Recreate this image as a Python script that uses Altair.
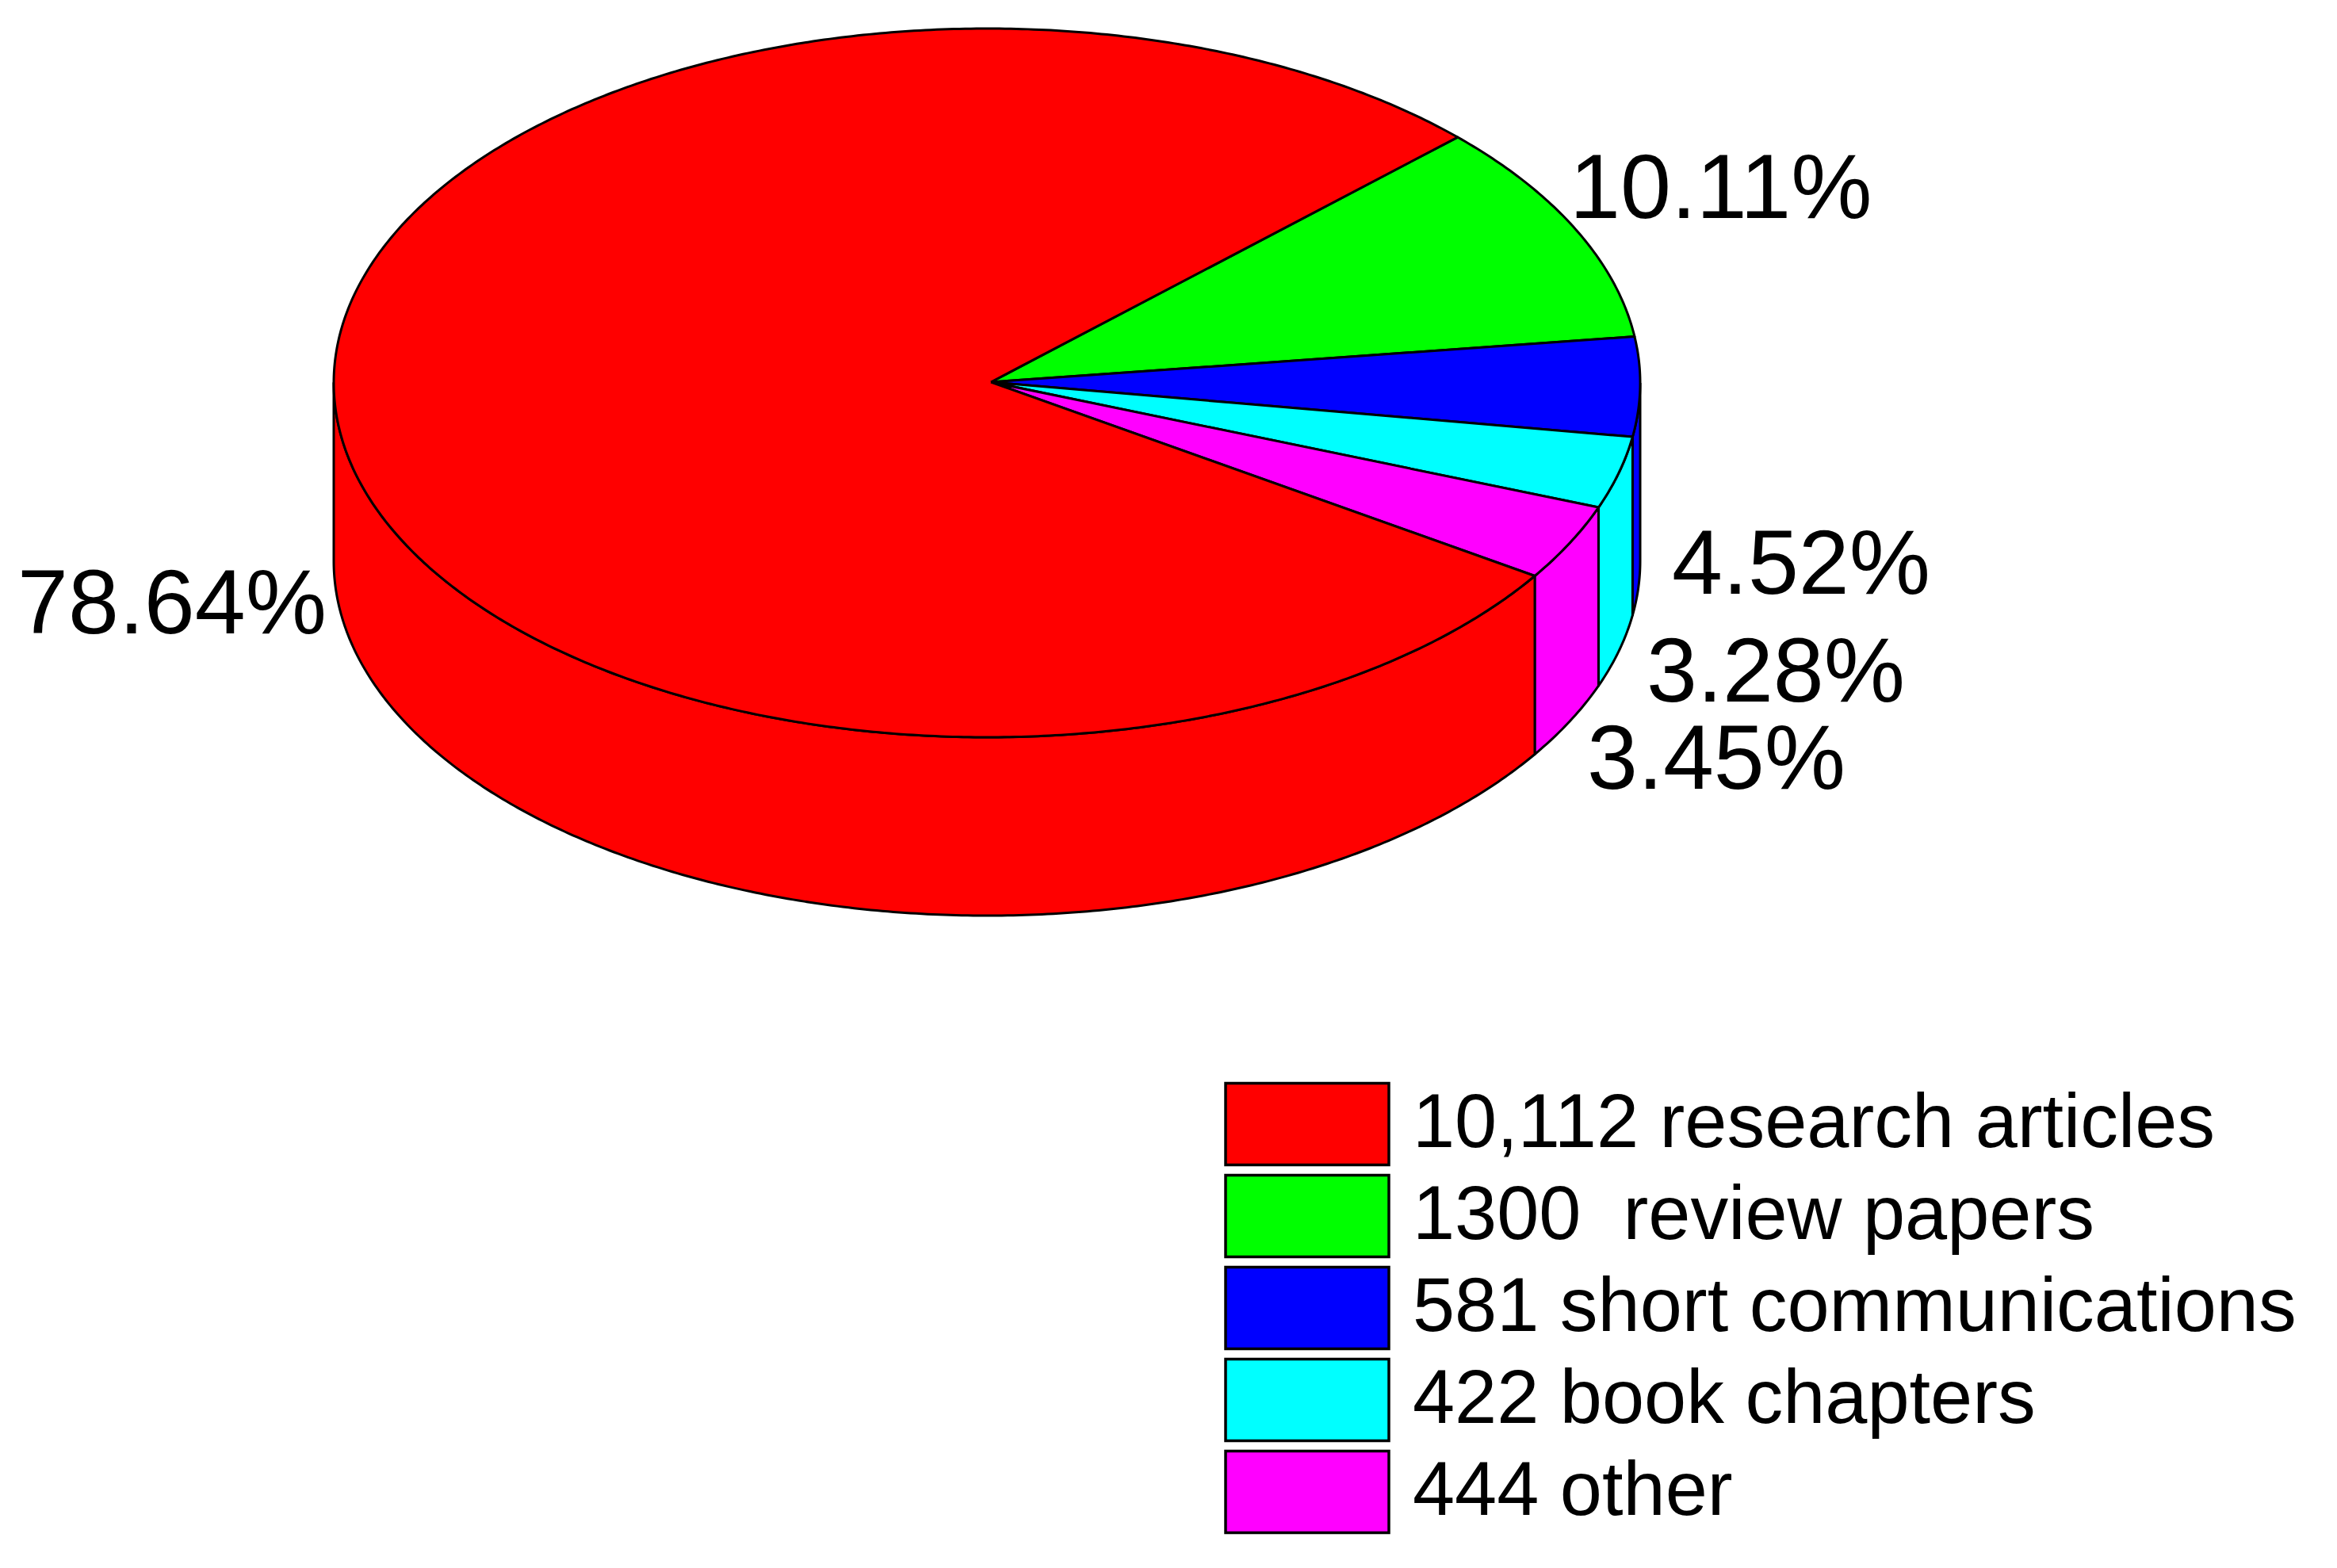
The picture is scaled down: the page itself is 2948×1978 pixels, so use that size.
import math
import altair as alt
import pandas as pd

# Values
categories = ["10,112 research articles", "1300\u00a0 review papers", "581 short communications",
              "422 book chapters", "444 other"]
counts = [10112, 1300, 581, 422, 444]
percent_labels = ["78.64%", "10.11%", "4.52%", "3.28%", "3.45%"]
colors = ["#ff0000", "#00ff00", "#0000ff", "#00ffff", "#ff00ff"]

# Layout (page pixels)
CX, CY, RX, RY = 1245, 483, 824, 447
APEX = (1250, 482)
DEPTH = 225
START_DEG = 43.9
label_x = [22, 1980, 2109, 2077, 2002]
label_y = [799, 275, 749, 885, 995]

total = sum(counts)
shares = [c / total * 360 for c in counts]
# clockwise order on the chart: green, blue, cyan, magenta, then red
order = [1, 2, 3, 4, 0]
spans = {}
a = START_DEG
for i in order:
    spans[i] = (a, a - shares[i])
    a -= shares[i]


def rim(deg, drop=0):
    t = math.radians(deg)
    return CX + RX * math.cos(t), CY - RY * math.sin(t) + drop


def arc(a0, a1, drop=0):
    n = max(2, int(abs(a1 - a0) * 2))
    return [rim(a0 + (a1 - a0) * k / n, drop) for k in range(n + 1)]


top_rows, wall_rows = [], []
for i, (a0, a1) in spans.items():
    pts = [APEX] + arc(a0, a1) + [APEX]
    for s, (x, y) in enumerate(pts):
        top_rows.append({"cat": categories[i], "seq": s, "px": x, "py": y})
    # only the part of the rim in the front half has a visible wall
    w0, w1 = min(a0, 0), max(a1, -180)
    if w0 > w1:
        outline = arc(w0, w1) + arc(w1, w0, DEPTH)
        outline.append(outline[0])
        for s, (x, y) in enumerate(outline):
            wall_rows.append({"cat": categories[i], "seq": s, "px": x, "py": y})

label_df = pd.DataFrame({"text": percent_labels, "px": label_x, "py": label_y})

x_enc = alt.X("px:Q", axis=None, scale=alt.Scale(domain=[8, 2940], nice=False, zero=False))
y_enc = alt.Y("py:Q", axis=None, scale=alt.Scale(domain=[1970, 8], nice=False, zero=False))
fill_enc = alt.Fill(
    "cat:N",
    scale=alt.Scale(domain=categories, range=colors),
    legend=alt.Legend(
        title=None, orient="none", legendX=1536, legendY=1355,
        symbolType="M-1,-0.5H1V0.5H-1Z", symbolSize=42436, clipHeight=110,
        symbolStrokeColor="black", symbolStrokeWidth=3.5, symbolOpacity=1,
        labelFont="Liberation Sans", labelFontSize=95.5, labelColor="black",
        labelLimit=1400, labelOffset=28, rowPadding=6, padding=0, values=categories,
    ),
)


def polys(rows):
    return alt.Chart(pd.DataFrame(rows)).mark_line(strokeWidth=3, strokeJoin="round").encode(
        x=x_enc, y=y_enc, order="seq:Q", fill=fill_enc, stroke=alt.value("black"), detail="cat:N"
    )


labels = alt.Chart(label_df).mark_text(
    align="left", baseline="alphabetic", font="Liberation Sans", fontSize=115, color="black"
).encode(x=x_enc, y=y_enc, text="text:N")

chart = alt.layer(polys(wall_rows), polys(top_rows), labels).properties(
    width=2932, height=1962, padding=0,
    autosize=alt.AutoSizeParams(type="none"), background="white",
).configure_view(stroke=None)

chart.save("out.html", embed_options={"renderer": "svg", "actions": False})
